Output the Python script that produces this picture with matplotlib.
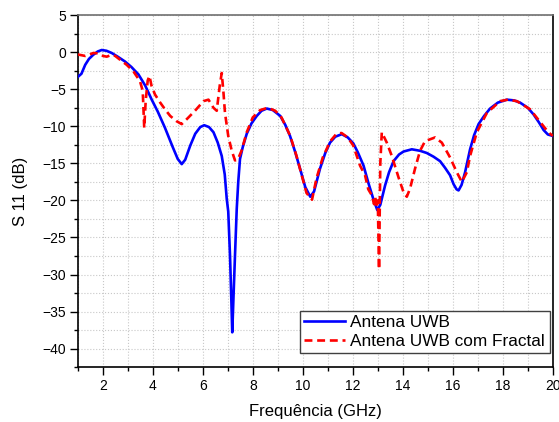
import numpy as np
import matplotlib
matplotlib.use('Agg')
import matplotlib.pyplot as plt
from matplotlib.ticker import MultipleLocator

plt.rcParams['font.family'] = ['Liberation Sans', 'DejaVu Sans']

# Antena UWB
freq_uwb = [1.0, 1.15, 1.3, 1.45, 1.62, 1.8, 1.96, 2.15, 2.36, 2.6, 2.89, 3.15, 3.43, 3.7,
            3.96, 4.2, 4.49, 4.8, 5.0, 5.16, 5.3, 5.5, 5.7, 5.9, 6.06, 6.25, 6.43, 6.6,
            6.76, 6.88, 6.96, 7.02, 7.09, 7.14, 7.18, 7.23, 7.29, 7.36, 7.42, 7.49, 7.6,
            7.76, 7.95, 8.16, 8.35, 8.56, 8.8, 9.1, 9.3, 9.49, 9.7, 9.89, 10.1, 10.3,
            10.45, 10.69, 10.9, 11.09, 11.3, 11.56, 11.8, 12.02, 12.2, 12.43, 12.62,
            12.82, 12.98, 13.1, 13.29, 13.45, 13.63, 13.85, 14.03, 14.36, 14.69, 14.96,
            15.23, 15.49, 15.69, 15.89, 16.03, 16.15, 16.23, 16.35, 16.49, 16.69, 16.85,
            17.03, 17.25, 17.49, 17.8, 18.16, 18.45, 18.69, 19.0, 19.23, 19.45, 19.63,
            19.8, 20.0]
s11_uwb = [-3.35, -2.9, -1.7, -0.9, -0.35, 0.1, 0.3, 0.2, -0.1, -0.6, -1.25, -2.0, -3.0, -4.5,
           -6.4, -8.0, -10.2, -12.8, -14.4, -15.1, -14.5, -12.6, -11.0, -10.1, -9.85, -10.1,
           -10.8, -12.2, -14.0, -16.5, -19.8, -21.5, -27.4, -33.0, -37.8, -33.0, -27.4,
           -21.1, -17.5, -14.4, -12.8, -11.0, -9.6, -8.6, -7.9, -7.6, -7.8, -8.6, -9.8,
           -11.3, -13.5, -15.7, -18.2, -19.5, -18.8, -15.7, -13.6, -12.2, -11.4, -11.06,
           -11.5, -12.3, -13.5, -15.3, -17.6, -19.8, -21.3, -20.6, -18.0, -16.2, -14.7,
           -13.8, -13.4, -13.1, -13.3, -13.6, -14.1, -14.7, -15.6, -16.6, -17.8, -18.5,
           -18.65, -17.9, -16.2, -13.1, -11.2, -9.7, -8.6, -7.6, -6.8, -6.4, -6.5, -6.8,
           -7.5, -8.4, -9.5, -10.5, -11.1, -11.3]

# Antena UWB com Fractal
freq_frac = [1.0, 1.15, 1.3, 1.43, 1.63, 1.8, 1.95, 2.16, 2.36, 2.5, 2.69, 2.96, 3.23, 3.49,
             3.6, 3.66, 3.72, 3.8, 3.87, 3.95, 4.09, 4.3, 4.49, 4.7, 4.95, 5.16, 5.4, 5.69,
             6.03, 6.23, 6.43, 6.56, 6.68, 6.76, 6.83, 6.89, 7.02, 7.16, 7.29, 7.4, 7.55,
             7.76, 8.0, 8.3, 8.6, 8.9, 9.15, 9.5, 9.75, 9.95, 10.15, 10.37, 10.55, 10.8,
             11.1, 11.35, 11.55, 11.8, 12.02, 12.29, 12.49, 12.62, 12.76, 12.85, 12.9,
             12.95, 13.0, 13.05, 13.1, 13.16, 13.36, 13.56, 13.83, 14.03, 14.16, 14.29,
             14.49, 14.69, 14.89, 15.29, 15.56, 15.89, 16.16, 16.36, 16.56, 16.69, 16.96,
             17.36, 17.89, 18.2, 18.56, 19.09, 19.56, 19.82, 20.0]
s11_frac = [-0.3, -0.4, -0.5, -0.35, -0.1, -0.15, -0.45, -0.6, -0.35, -0.5, -1.0, -1.7, -2.6,
            -3.9, -5.2, -10.2, -6.5, -3.8, -3.2, -4.5, -5.7, -6.8, -7.7, -8.6, -9.3, -9.7,
            -8.9, -7.9, -6.6, -6.4, -7.5, -7.9, -4.5, -2.8, -5.5, -8.2, -11.3, -13.3, -14.6,
            -14.5, -13.3, -10.8, -8.8, -7.8, -7.5, -7.9, -8.8, -11.3, -14.0, -16.5, -19.0,
            -19.9, -17.0, -14.2, -12.0, -11.0, -10.9, -11.5, -12.6, -15.3, -16.6, -18.5,
            -19.3, -20.5, -19.6, -21.0, -20.0, -29.3, -15.0, -10.8, -12.2, -14.0, -16.9,
            -18.9, -19.5, -18.4, -15.7, -13.3, -12.0, -11.5, -12.2, -14.2, -16.2, -17.5,
            -16.2, -14.0, -10.8, -8.2, -6.6, -6.4, -6.6, -7.7, -9.7, -10.8, -11.3]

fig = plt.figure(figsize=(5.59, 4.22), dpi=100)
ax = fig.add_axes([0.139, 0.130, 0.850, 0.834])

ax.plot(freq_uwb, s11_uwb, color='#0000ff', lw=1.9, label='Antena UWB', zorder=3)
ax.plot(freq_frac, s11_frac, color='#ff0000', lw=1.9, dashes=(3, 1.8),
        label='Antena UWB com Fractal', zorder=4)

ax.set_xlim(1, 20)
ax.set_ylim(-42.5, 5)
ax.xaxis.set_major_locator(MultipleLocator(2))
ax.xaxis.set_minor_locator(MultipleLocator(1))
ax.yaxis.set_major_locator(MultipleLocator(5))
ax.yaxis.set_minor_locator(MultipleLocator(2.5))

ax.grid(which='both', color='#c8c8c8', linestyle=':', linewidth=0.8)
ax.set_axisbelow(True)
ax.tick_params(which='major', direction='out', length=5.5, width=1, labelsize=10,
               pad=3, top=False, right=False)
ax.tick_params(which='minor', direction='out', length=3, width=1,
               top=False, right=False)
for side in ['left', 'bottom', 'right']:
    ax.spines[side].set_color('black')
    ax.spines[side].set_linewidth(1.2)
ax.spines['top'].set_color('#707070')
ax.spines['top'].set_linewidth(1.2)

ax.set_xlabel('Frequência (GHz)', fontsize=12, labelpad=8)
ax.set_ylabel('S 11 (dB)', fontsize=12, labelpad=10)

leg = ax.legend(loc='lower right', bbox_to_anchor=(0.993, 0.04), fontsize=12.4,
                fancybox=False, edgecolor='#404040', framealpha=1, handlelength=2.4,
                borderaxespad=0, borderpad=0.25, labelspacing=0.2, handletextpad=0.3)
leg.get_frame().set_linewidth(1.0)

fig.savefig('out.png', dpi=100)
